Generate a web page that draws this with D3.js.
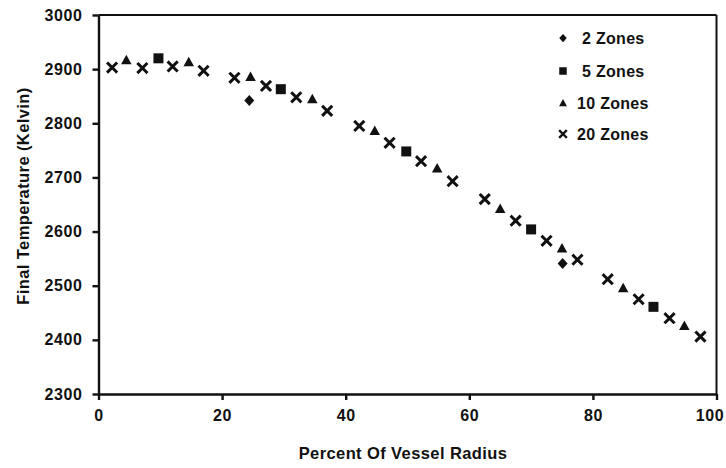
<!DOCTYPE html>
<html>
<head>
<meta charset="utf-8">
<script src="https://cdn.jsdelivr.net/npm/d3@7"></script>
<style>
  body { margin: 0; background: #fff; }
  text { font-family: "Liberation Sans", Arial, sans-serif; font-weight: bold; fill: #111; }
</style>
</head>
<body>
<script>
// data
var zones2X = [24.4, 75.1];
var zones2Y = [2842, 2541];
var zones5X = [9.7, 29.5, 49.8, 70.0, 89.8];
var zones5Y = [2920, 2863, 2748, 2604, 2461];
var zones10X = [4.5, 14.6, 24.6, 34.6, 44.7, 54.8, 65.0, 75.0, 84.9, 94.8];
var zones10Y = [2917, 2913, 2886, 2845, 2786, 2717, 2642, 2569, 2496, 2426];
var zones20X = [2.2, 7.1, 12.0, 17.0, 22.0, 27.1, 32.0, 37.0, 42.2, 47.1,
                52.2, 57.3, 62.5, 67.5, 72.5, 77.5, 82.4, 87.4, 92.4, 97.4];
var zones20Y = [2903, 2902, 2905, 2897, 2884, 2869, 2848, 2823, 2795, 2764,
                2730, 2693, 2660, 2620, 2583, 2548, 2512, 2475, 2440, 2406];
var xTicks = [0, 20, 40, 60, 80, 100];
var yTicks = [2300, 2400, 2500, 2600, 2700, 2800, 2900, 3000];
var seriesNames = ["2 Zones", "5 Zones", "10 Zones", "20 Zones"];

var width = 726;
var height = 468;
var svg = d3.select("body")
  .append("svg")
  .attr("width", width)
  .attr("height", height);

var x = d3.scaleLinear().domain([0, 100]).range([98.5, 716.5]);
var y = d3.scaleLinear().domain([2300, 3000]).range([394, 15]);

// marker shapes
function shape(kind, s) {
  var h = s / 2;
  if (kind == "diamond") {
    return "M0," + (-h * 1.1) + "L" + h + ",0L0," + (h * 1.1) + "L" + (-h) + ",0Z";
  }
  if (kind == "square") {
    return "M" + (-h) + "," + (-h) + "h" + s + "v" + s + "h" + (-s) + "Z";
  }
  if (kind == "triangle") {
    return "M0," + (-h * 1.05) + "L" + (h * 1.05) + "," + (h * 0.85) + "L" + (-h * 1.05) + "," + (h * 0.85) + "Z";
  }
  return "M" + (-h) + "," + (-h) + "L" + h + "," + h + "M" + h + "," + (-h) + "L" + (-h) + "," + h;
}

var kinds = ["diamond", "square", "triangle", "cross"];
var series = [
  { name: seriesNames[0], kind: kinds[0], xs: zones2X, ys: zones2Y },
  { name: seriesNames[1], kind: kinds[1], xs: zones5X, ys: zones5Y },
  { name: seriesNames[2], kind: kinds[2], xs: zones10X, ys: zones10Y },
  { name: seriesNames[3], kind: kinds[3], xs: zones20X, ys: zones20Y }
];

function drawMark(g, kind, size, sw) {
  var p = g.append("path").attr("d", shape(kind, size));
  if (kind == "cross") {
    p.attr("fill", "none").attr("stroke", "#111").attr("stroke-width", sw).attr("stroke-linecap", "square");
  } else {
    p.attr("fill", "#111");
  }
}

// frame: top and right
svg.append("line")
  .attr("x1", x(0)).attr("x2", x(100))
  .attr("y1", y(3000)).attr("y2", y(3000))
  .attr("stroke", "#111").attr("stroke-width", 2);
svg.append("line")
  .attr("x1", x(100)).attr("x2", x(100))
  .attr("y1", y(3000)).attr("y2", y(2300))
  .attr("stroke", "#111").attr("stroke-width", 2);

var xAxis = svg.append("g")
  .attr("transform", "translate(0," + y(2300) + ")")
  .call(d3.axisBottom(x).tickValues(xTicks).tickFormat(d3.format("d"))
    .tickSize(6).tickSizeOuter(0).tickPadding(10));
var yAxis = svg.append("g")
  .attr("transform", "translate(" + x(0) + ",0)")
  .call(d3.axisLeft(y).tickValues(yTicks).tickFormat(d3.format("d"))
    .tickSize(6).tickSizeOuter(0).tickPadding(10));

[xAxis, yAxis].forEach(function (a) {
  a.select(".domain").attr("stroke", "#111").attr("stroke-width", 2.4);
  a.selectAll(".tick line").attr("stroke", "#111").attr("stroke-width", 2.4);
  a.selectAll(".tick text")
    .attr("fill", "#111")
    .style("font-size", "16px")
    .style("letter-spacing", "0.6px");
});
// the last x label sits a little left of its tick, as in the source
xAxis.selectAll(".tick text")
  .filter(function (d) { return d == 100; })
  .attr("dx", -7);

// points
for (var i = 0; i < series.length; i ++) {
  var s = series[i];
  for (var j = 0; j < s.xs.length; j ++) {
    var g = svg.append("g")
      .attr("transform", "translate(" + x(s.xs[j]) + "," + y(s.ys[j]) + ")");
    drawMark(g, s.kind, s.kind == "cross" ? 8 : 10, 3);
  }
}

// legend
var legendRows = [38, 71, 103, 134];
var legendTextX = [582, 582, 577, 577];
for (var i = 0; i < series.length; i ++) {
  var lg = svg.append("g")
    .attr("transform", "translate(563," + legendRows[i] + ")");
  drawMark(lg, series[i].kind, series[i].kind == "cross" ? 6 : 7.5, 2.4);
  svg.append("text")
    .attr("x", legendTextX[i])
    .attr("y", legendRows[i])
    .attr("dy", "0.36em")
    .style("font-size", "16px")
    .style("letter-spacing", "0.3px")
    .text(series[i].name);
}

// axis titles
svg.append("text")
  .attr("x", 403)
  .attr("y", 459)
  .attr("text-anchor", "middle")
  .style("font-size", "16.5px")
  .style("letter-spacing", "0.4px")
  .text("Percent Of Vessel Radius");
svg.append("text")
  .attr("transform", "translate(29,196) rotate(-90)")
  .attr("text-anchor", "middle")
  .style("font-size", "16.5px")
  .style("letter-spacing", "0.4px")
  .text("Final Temperature (Kelvin)");
</script>
</body>
</html>
